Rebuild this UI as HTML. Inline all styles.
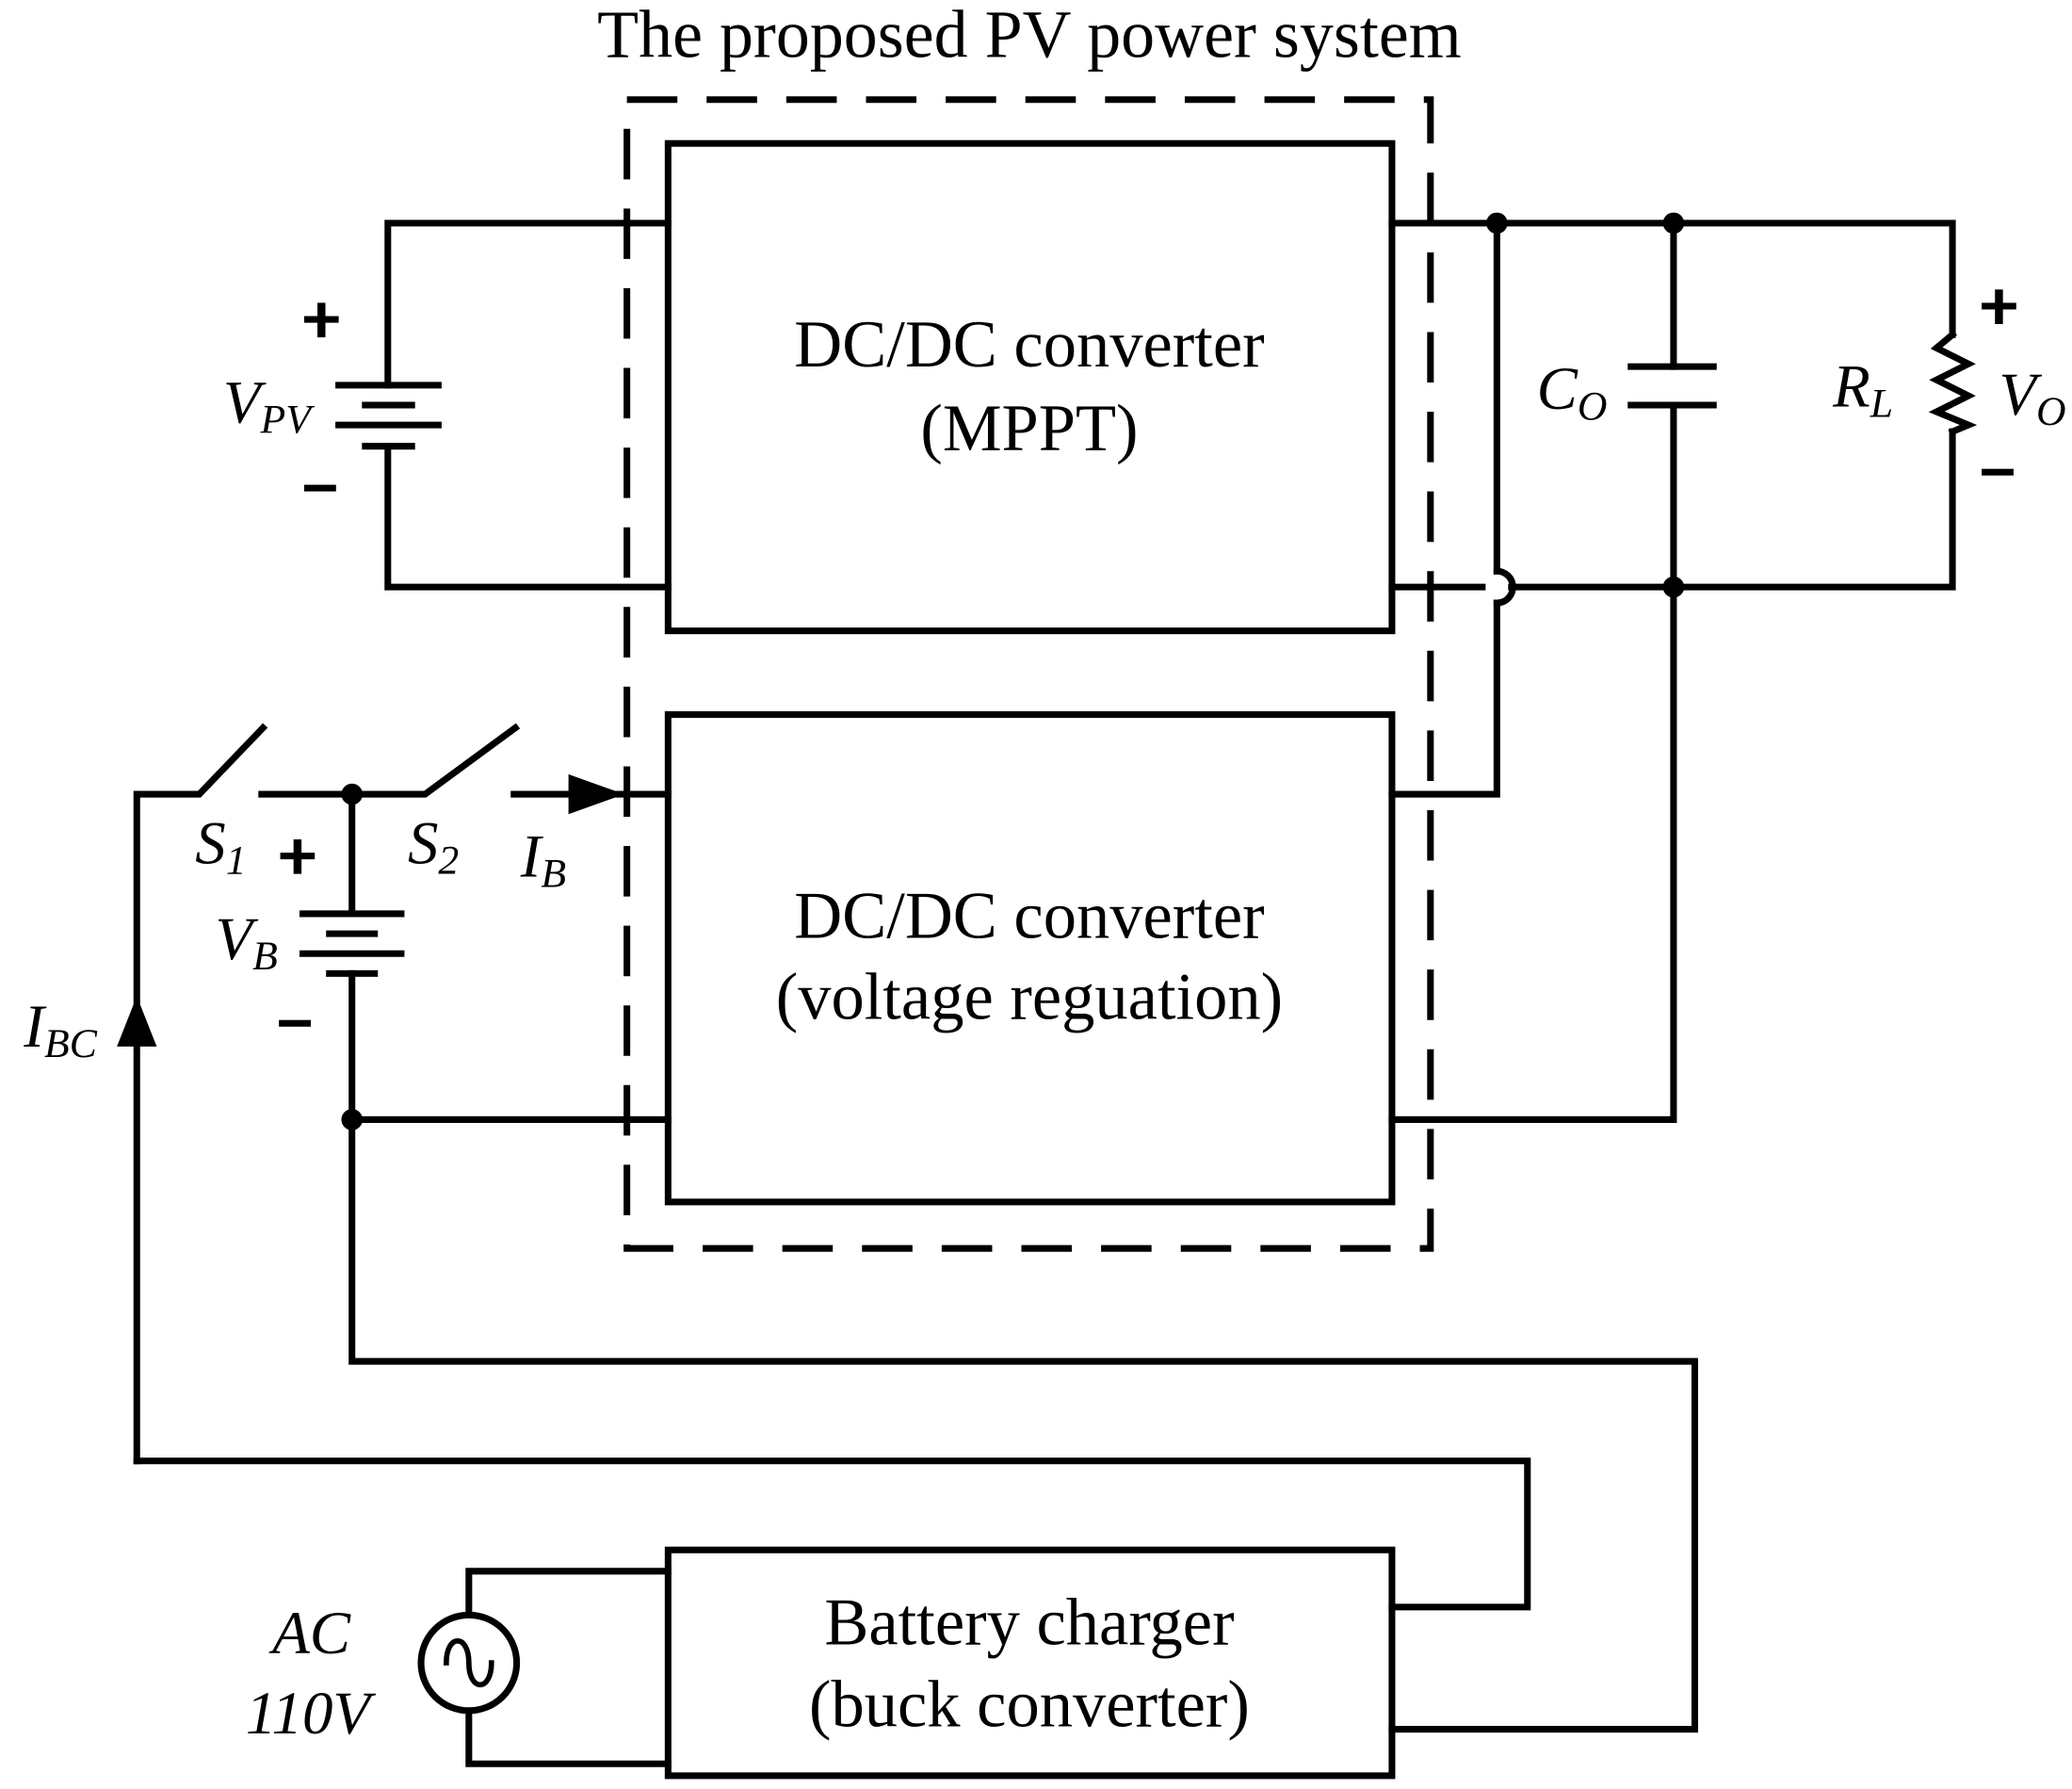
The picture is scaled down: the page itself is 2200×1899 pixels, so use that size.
<!DOCTYPE html>
<html><head><meta charset="utf-8"><style>
html,body{margin:0;padding:0;background:#fff}
svg{display:block}
text{font-family:"Liberation Serif",serif;fill:#000}
</style></head><body>
<svg width="2200" height="1899" viewBox="0 0 1560 1347" preserveAspectRatio="none" xmlns="http://www.w3.org/2000/svg">
<g fill="none" stroke="#000" stroke-width="5" stroke-linecap="square">
<rect x="472" y="75" width="605" height="865" stroke-dasharray="38,22" stroke-linecap="butt"/>
<rect x="503" y="108" width="545" height="367"/>
<rect x="503" y="538" width="545" height="367"/>
<rect x="503" y="1167" width="545" height="170"/>
<polyline points="503,168 292,168 292,290"/>
<polyline points="292,336 292,442 503,442"/>
<line x1="255" y1="290" x2="330" y2="290"/>
<line x1="275" y1="305" x2="310" y2="305"/>
<line x1="255" y1="320" x2="330" y2="320"/>
<line x1="275" y1="336" x2="310" y2="336"/>
<polyline points="1048,168 1470,168 1470,252"/>
<polyline points="1470,325 1470,442 1138,442"/>
<line x1="1048" y1="442" x2="1116" y2="442"/>
<path d="M1127,430 A12,12 0 0 1 1127,454"/>
<polyline points="1127,168 1127,430"/>
<polyline points="1127,454 1127,598 1048,598"/>
<line x1="1260" y1="168" x2="1260" y2="276"/>
<line x1="1228" y1="276" x2="1290" y2="276"/>
<line x1="1228" y1="305" x2="1290" y2="305"/>
<polyline points="1260,305 1260,843 1048,843"/>
<polyline points="1470,252 1458,262 1482,274 1458,286 1482,298 1458,310 1482,320 1470,325"/>
<polyline points="103,1100 103,598 150,598 198,548"/>
<polyline points="197,598 320,598 388,548"/>
<line x1="387" y1="598" x2="503" y2="598"/>
<line x1="265" y1="598" x2="265" y2="688"/>
<line x1="228" y1="688" x2="302" y2="688"/>
<line x1="248" y1="703" x2="282" y2="703"/>
<line x1="228" y1="718" x2="302" y2="718"/>
<line x1="248" y1="733" x2="282" y2="733"/>
<polyline points="265,733 265,1025 1276,1025 1276,1302 1048,1302"/>
<line x1="265" y1="843" x2="503" y2="843"/>
<polyline points="103,1100 1150,1100 1150,1210 1048,1210"/>
<polyline points="503,1183 353,1183 353,1215"/>
<polyline points="353,1289 353,1328 503,1328"/>
<circle cx="353" cy="1252" r="36"/>
<path d="M336,1252 C336,1230 353,1230 353,1252 C353,1274 370,1274 370,1252" stroke-width="4"/>
</g>
<g fill="#000">
<circle cx="1127" cy="168" r="8"/><circle cx="1260" cy="168" r="8"/><circle cx="1260" cy="442" r="8"/>
<circle cx="265" cy="598" r="8"/><circle cx="265" cy="843" r="8"/>
<polygon points="470,598 428,583 428,613"/>
<polygon points="103,750 88,788 118,788"/>
<rect x="229" y="238" width="26" height="5"/><rect x="239" y="228" width="6" height="26"/>
<rect x="229" y="365" width="24" height="5"/>
<rect x="1492" y="228" width="26" height="5"/><rect x="1502" y="218" width="6" height="26"/>
<rect x="1492" y="353" width="24" height="5"/>
<rect x="211" y="642" width="26" height="5"/><rect x="221" y="632" width="6" height="26"/>
<rect x="210" y="768" width="24" height="5"/>
</g>
<g font-size="50">
<text x="775" y="43" text-anchor="middle" font-size="51">The proposed PV power system</text>
<text x="775" y="276" text-anchor="middle">DC/DC converter</text>
<text x="775" y="339" text-anchor="middle">(MPPT)</text>
<text x="775" y="706" text-anchor="middle">DC/DC converter</text>
<text x="775" y="767" text-anchor="middle">(voltage reguation)</text>
<text x="775" y="1238" text-anchor="middle">Battery charger</text>
<text x="775" y="1300" text-anchor="middle">(buck converter)</text>
</g>
<g font-size="46" font-style="italic">
<text x="168" y="318">V<tspan font-size="31" dy="8">PV</tspan></text>
<text x="1157" y="308">C<tspan font-size="31" dy="8">O</tspan></text>
<text x="1380" y="306">R<tspan font-size="31" dy="8">L</tspan></text>
<text x="1505" y="312">V<tspan font-size="31" dy="8">O</tspan></text>
<text x="147" y="650">S<tspan font-size="31" dy="8">1</tspan></text>
<text x="307" y="650">S<tspan font-size="31" dy="8">2</tspan></text>
<text x="392" y="660">I<tspan font-size="31" dy="8">B</tspan></text>
<text x="162" y="722">V<tspan font-size="31" dy="8">B</tspan></text>
<text x="18" y="788">I<tspan font-size="31" dy="8">BC</tspan></text>
<text x="205" y="1245">AC</text>
<text x="185" y="1305">110V</text>
</g>
</svg>
</body></html>
